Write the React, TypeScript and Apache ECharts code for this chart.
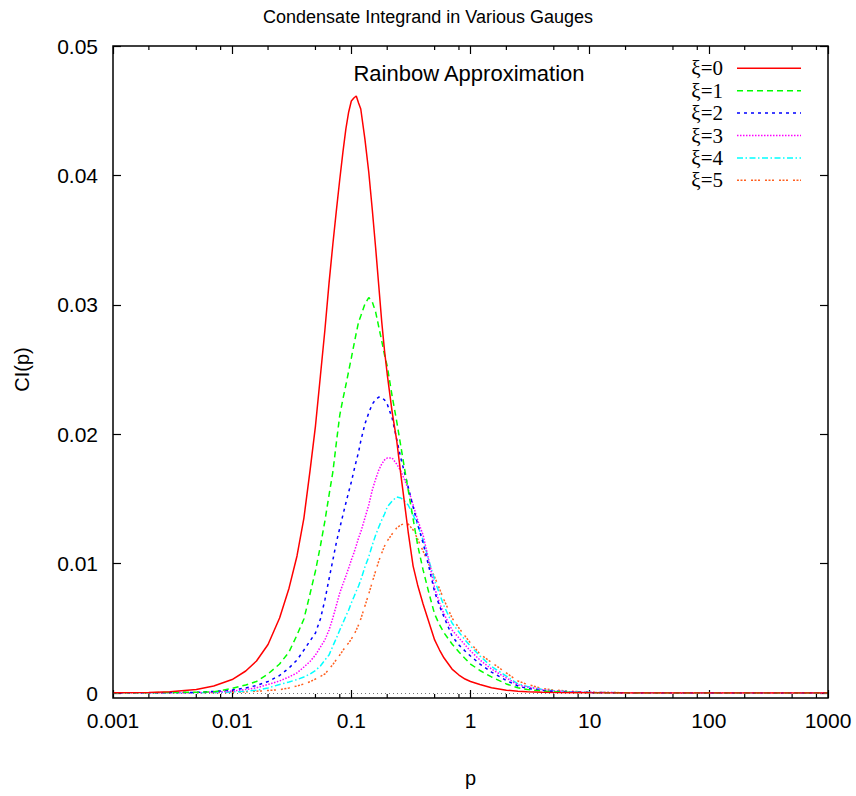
import React, { useEffect, useRef } from 'react';
import * as echarts from 'echarts';

const pValues = [0.001, 0.002, 0.003, 0.005, 0.007, 0.01, 0.013, 0.016, 0.02, 0.025, 0.03, 0.035, 0.04, 0.045, 0.05, 0.055, 0.06, 0.065, 0.07, 0.075, 0.08, 0.085, 0.09, 0.095, 0.1, 0.105, 0.11, 0.115, 0.12, 0.13, 0.14, 0.15, 0.16, 0.17, 0.18, 0.19, 0.2, 0.22, 0.24, 0.26, 0.28, 0.3, 0.33, 0.36, 0.4, 0.45, 0.5, 0.55, 0.6, 0.7, 0.8, 0.9, 1, 1.2, 1.5, 2, 2.5, 3, 4, 5, 7, 10, 20, 100, 1000];

const xi0 = [0.000015, 0.00004, 0.00009, 0.00027, 0.00054, 0.00104, 0.0017, 0.00247, 0.00375, 0.0058, 0.0081, 0.01059, 0.01352, 0.01716, 0.02063, 0.0245, 0.02805, 0.03168, 0.0347, 0.03733, 0.0397, 0.0418, 0.0436, 0.0449, 0.04575, 0.04598, 0.04614, 0.0456, 0.04513, 0.04281, 0.04026, 0.03733, 0.03439, 0.03145, 0.02867, 0.02643, 0.02465, 0.02172, 0.01955, 0.01692, 0.01461, 0.01244, 0.00981, 0.00835, 0.00688, 0.00541, 0.0041, 0.00332, 0.0027, 0.00185, 0.00139, 0.00108, 0.00089, 0.00066, 0.0004, 0.00022, 0.00014, 0.0001, 0.00006, 0.00004, 0.00002, 0.00001, 0, 0, 0];
const xi1 = [0.000015, 0.00002, 0.00004, 0.00006, 0.00009, 0.00035, 0.00062, 0.00089, 0.00147, 0.00224, 0.00317, 0.00448, 0.00572, 0.00765, 0.00943, 0.01136, 0.01329, 0.0153, 0.01708, 0.0194, 0.02148, 0.02272, 0.0238, 0.02488, 0.02589, 0.02689, 0.02782, 0.02867, 0.02913, 0.03006, 0.03056, 0.03022, 0.02944, 0.02828, 0.0272, 0.02612, 0.02527, 0.02295, 0.02102, 0.01909, 0.01731, 0.01569, 0.01345, 0.01144, 0.00951, 0.00765, 0.0061, 0.00526, 0.00464, 0.00379, 0.00317, 0.00267, 0.00224, 0.00174, 0.00124, 0.0007, 0.0004, 0.00027, 0.00015, 0.00009, 0.00005, 0.00002, 0.00001, 0, 0];
const xi2 = [0.00001, 0.00002, 0.00003, 0.00005, 0.00012, 0.00023, 0.00039, 0.00058, 0.00089, 0.00135, 0.00193, 0.00255, 0.00332, 0.00402, 0.00464, 0.00572, 0.00719, 0.00881, 0.01028, 0.01167, 0.01275, 0.01376, 0.01468, 0.01553, 0.01631, 0.01716, 0.01793, 0.01862, 0.01947, 0.02079, 0.02164, 0.02233, 0.02268, 0.02287, 0.02284, 0.02264, 0.02233, 0.02125, 0.01963, 0.01816, 0.017, 0.01592, 0.01437, 0.01306, 0.01159, 0.00966, 0.00781, 0.00672, 0.00587, 0.0044, 0.00371, 0.00325, 0.00286, 0.00224, 0.00162, 0.00097, 0.00054, 0.00035, 0.00019, 0.00012, 0.00006, 0.00003, 0.00001, 0, 0];
const xi3 = [0.00001, 0.00001, 0.00002, 0.00003, 0.00006, 0.00015, 0.00027, 0.0004, 0.00066, 0.00093, 0.00124, 0.00155, 0.00201, 0.00243, 0.00294, 0.00355, 0.0041, 0.00487, 0.0058, 0.0068, 0.00773, 0.00842, 0.00904, 0.00966, 0.01028, 0.01082, 0.0114, 0.01198, 0.01244, 0.01352, 0.01453, 0.01569, 0.01654, 0.01723, 0.0177, 0.01801, 0.01816, 0.01816, 0.0177, 0.01716, 0.01646, 0.01577, 0.01453, 0.01337, 0.01221, 0.01012, 0.00811, 0.00696, 0.0061, 0.00487, 0.00425, 0.00371, 0.00325, 0.00255, 0.00185, 0.00116, 0.00063, 0.00046, 0.00025, 0.00016, 0.00009, 0.00005, 0.00002, 0, 0];
const xi4 = [0.00001, 0.00001, 0.00001, 0.00002, 0.00004, 0.00008, 0.00014, 0.00021, 0.00039, 0.00066, 0.00085, 0.00104, 0.00124, 0.00147, 0.00174, 0.00209, 0.00255, 0.00294, 0.00363, 0.00425, 0.00487, 0.00541, 0.00595, 0.00641, 0.00696, 0.00742, 0.00788, 0.00827, 0.00873, 0.00974, 0.01051, 0.01144, 0.01221, 0.01283, 0.01337, 0.01383, 0.01437, 0.01484, 0.01515, 0.01507, 0.01484, 0.01453, 0.01376, 0.01298, 0.01182, 0.01016, 0.00873, 0.00765, 0.00672, 0.00541, 0.00471, 0.0041, 0.00363, 0.00286, 0.00205, 0.00131, 0.00071, 0.0005, 0.00027, 0.00018, 0.00009, 0.00005, 0.00002, 0, 0];
const xi5 = [0.00001, 0.00001, 0.00001, 0.00001, 0.00002, 0.00005, 0.00009, 0.00014, 0.00019, 0.00026, 0.00039, 0.00054, 0.0007, 0.00087, 0.00108, 0.00128, 0.00147, 0.00185, 0.0022, 0.00259, 0.00294, 0.00328, 0.00363, 0.00386, 0.00417, 0.00448, 0.00487, 0.00526, 0.00572, 0.00672, 0.00765, 0.00858, 0.00943, 0.0102, 0.01082, 0.01136, 0.01175, 0.01229, 0.01275, 0.01298, 0.0131, 0.01306, 0.0126, 0.0119, 0.01097, 0.00989, 0.00896, 0.00804, 0.00719, 0.0058, 0.00502, 0.0044, 0.00386, 0.00301, 0.00236, 0.00155, 0.00093, 0.00066, 0.00035, 0.00023, 0.00013, 0.00007, 0.00002, 0, 0];

const seriesNames = ['ξ=0', 'ξ=1', 'ξ=2', 'ξ=3', 'ξ=4', 'ξ=5'];
const seriesValues = [xi0, xi1, xi2, xi3, xi4, xi5];
const seriesColors = ['#ff0000', '#00ff00', '#0000ff', '#ff00ff', '#00ffff', '#ff6020'];
const seriesDashes: (number[] | 'solid')[] = ['solid', [6, 4], [3, 4], [1.5, 1.5], [6, 2.5, 1.5, 2.5], [2, 1.5, 2, 1.5, 2, 5]];

const xTickLabels = ['0.001', '0.01', '0.1', '1', '10', '100', '1000'];
const yTickLabels = ['0', '0.01', '0.02', '0.03', '0.04', '0.05'];
const minorMultipliers = [2, 5, 8];

const titleText = 'Condensate Integrand in Various Gauges';
const subtitleText = 'Rainbow Approximation';
const xName = 'p';
const yName = 'CI(p)';

const FONT = 'Liberation Sans, Arial, sans-serif';

export default function App() {
  const ref = useRef<HTMLDivElement>(null);
  useEffect(() => {
    const chart = echarts.init(ref.current!, null, { renderer: 'svg' });
    const tickStyle = { show: true, inside: true, length: 8, lineStyle: { color: '#000', width: 1.2 } };
    const option: any = {
      animation: false,
      backgroundColor: '#fff',
      title: {
        text: titleText,
        left: 'center',
        top: 3,
        textStyle: { fontFamily: FONT, fontSize: 18, fontWeight: 'normal', color: '#000' },
      },
      grid: { left: 113, top: 46, width: 715, height: 647, containLabel: false },
      xAxis: [
        {
          type: 'log', logBase: 10, min: 0.001, max: 1000, interval: 1, splitNumber: 6,
          position: 'bottom', offset: 5,
          axisLine: { show: false, onZero: false },
          axisTick: tickStyle,
          splitLine: { show: false },
          axisLabel: {
            margin: 12, fontFamily: FONT, fontSize: 21, color: '#000',
            formatter: (v: number) => xTickLabels[Math.round(Math.log10(v)) + 3] ?? '',
          },
        },
        {
          type: 'log', logBase: 10, min: 0.001, max: 1000, interval: 1, splitNumber: 6,
          position: 'top',
          axisLine: { show: false, onZero: false },
          axisTick: tickStyle,
          splitLine: { show: false },
          axisLabel: { show: false },
        },
      ],
      yAxis: [
        {
          type: 'value', min: 0, max: 0.05, interval: 0.01, position: 'left',
          axisLine: { show: false },
          axisTick: tickStyle,
          splitLine: { show: false },
          axisLabel: {
            margin: 15, fontFamily: FONT, fontSize: 21, color: '#000',
            formatter: (v: number) => yTickLabels[Math.round(v / 0.01)] ?? '',
          },
        },
        {
          type: 'value', min: 0, max: 0.05, interval: 0.01, position: 'right',
          axisLine: { show: false },
          axisTick: tickStyle,
          splitLine: { show: false },
          axisLabel: { show: false },
        },
      ],
      series: seriesValues.map((vals, i) => ({
        name: seriesNames[i],
        type: 'line',
        xAxisIndex: 0,
        yAxisIndex: 0,
        showSymbol: false,
        symbol: 'none',
        smooth: false,
        data: pValues.map((p, k) => [p, vals[k]]),
        lineStyle: { color: seriesColors[i], width: 1.5, type: seriesDashes[i] },
        z: 10 - i,
        markLine: i === 0 ? {
          silent: true,
          symbol: ['none', 'none'],
          label: { show: false },
          lineStyle: { color: '#777', width: 1, type: [1, 3] },
          data: [{ yAxis: 0 }],
        } : undefined,
      })),
    };
    chart.setOption(option);

    const px = (v: number) => chart.convertToPixel({ xAxisIndex: 0 }, v) as number;
    const py = (v: number) => chart.convertToPixel({ yAxisIndex: 0 }, v) as number;
    const left = px(0.001);
    const right = px(1000);
    const top = py(0.05);
    const zeroY = py(0);
    const bottom = zeroY + 5;

    const graphics: any[] = [];
    graphics.push({
      type: 'rect', silent: true, z: 100,
      shape: { x: left, y: top, width: right - left, height: bottom - top },
      style: { fill: 'none', stroke: '#000', lineWidth: 1.5 },
    });
    for (let d = -3; d < 3; d++) {
      for (const m of minorMultipliers) {
        const x = px(m * Math.pow(10, d));
        graphics.push({ type: 'line', silent: true, z: 100, shape: { x1: x, y1: bottom, x2: x, y2: bottom - 4 }, style: { stroke: '#000', lineWidth: 1.2 } });
        graphics.push({ type: 'line', silent: true, z: 100, shape: { x1: x, y1: top, x2: x, y2: top + 4 }, style: { stroke: '#000', lineWidth: 1.2 } });
      }
    }
    graphics.push({
      type: 'text', silent: true, z: 100,
      x: 469, y: 73,
      style: { text: subtitleText, fontFamily: FONT, fontSize: 22, fill: '#000', align: 'center', verticalAlign: 'middle' },
    });
    graphics.push({
      type: 'text', silent: true, z: 100,
      x: (left + right) / 2, y: 778,
      style: { text: xName, fontFamily: FONT, fontSize: 20, fill: '#000', align: 'center', verticalAlign: 'middle' },
    });
    graphics.push({
      type: 'text', silent: true, z: 100,
      x: 22, y: (top + zeroY) / 2, rotation: Math.PI / 2,
      style: { text: yName, fontFamily: FONT, fontSize: 20, fill: '#000', align: 'center', verticalAlign: 'middle' },
    });
    const legendTop = 68.3;
    const legendStep = 22.4;
    seriesNames.forEach((name, i) => {
      const y = legendTop + i * legendStep;
      graphics.push({
        type: 'text', silent: true, z: 100,
        x: 723, y,
        style: { text: name, fontFamily: 'Liberation Serif, Times New Roman, serif', fontSize: 21, fill: '#000', align: 'right', verticalAlign: 'middle' },
      });
      const dash = seriesDashes[i];
      graphics.push({
        type: 'line', silent: true, z: 100,
        shape: { x1: 737, y1: y, x2: 801, y2: y },
        style: { stroke: seriesColors[i], lineWidth: 1.5, lineDash: dash === 'solid' ? null : dash },
      });
    });
    chart.setOption({ graphic: graphics });

    return () => chart.dispose();
  }, []);
  return <div ref={ref} style={{ position: 'fixed', left: 0, top: 0, width: 856, height: 796, background: '#fff' }} />;
}
